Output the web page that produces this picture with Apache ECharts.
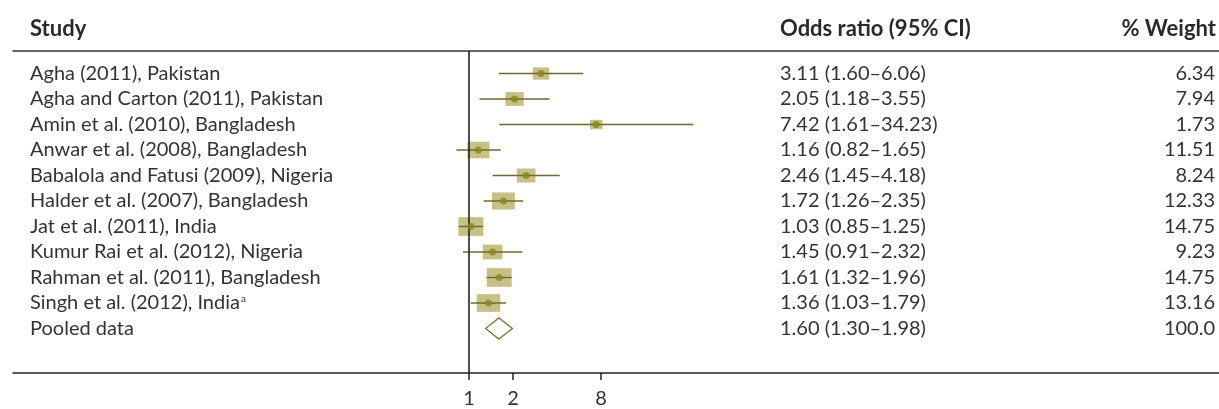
<!DOCTYPE html>
<html>
<head>
<meta charset="utf-8">
<style>html,body{margin:0;padding:0;background:#fff;}#c{width:1219px;height:409px;}</style>
<script src="https://cdn.jsdelivr.net/npm/echarts@6/dist/echarts.min.js"></script>
</head>
<body>
<div id="c"></div>
<script>
// ---- data ----
var studies = ['Agha (2011), Pakistan','Agha and Carton (2011), Pakistan','Amin et al. (2010), Bangladesh','Anwar et al. (2008), Bangladesh','Babalola and Fatusi (2009), Nigeria','Halder et al. (2007), Bangladesh','Jat et al. (2011), India','Kumur Rai et al. (2012), Nigeria','Rahman et al. (2011), Bangladesh','Singh et al. (2012), India','Pooled data'];
var footnotes = ['','','','','','','','','','a',''];
var oddsRatio = [3.11,2.05,7.42,1.16,2.46,1.72,1.03,1.45,1.61,1.36,1.60];
var ciLow = [1.60,1.18,1.61,0.82,1.45,1.26,0.85,0.91,1.32,1.03,1.30];
var ciHigh = [6.06,3.55,34.23,1.65,4.18,2.35,1.25,2.32,1.96,1.79,1.98];
var weights = ['6.34','7.94','1.73','11.51','8.24','12.33','14.75','9.23','14.75','13.16','100.0'];
var xTicks = [1,2,8];
var refValue = 1;
var pooledIndex = 10;

// ---- build ----
var TXT = '#333333', FONT = 'Lato';
var xMin = Math.pow(2, -456/44), xMax = Math.pow(2, 750/44);
var orLabels = oddsRatio.map(function(v,i){return v.toFixed(2)+' ('+ciLow[i].toFixed(2)+'\u2013'+ciHigh[i].toFixed(2)+')';});
var rows = oddsRatio.map(function(v,i){return [v,i,ciLow[i],ciHigh[i],parseFloat(weights[i])];});
var studyRows = rows.filter(function(r,i){return i!==pooledIndex;});
var pooledRows = rows.filter(function(r,i){return i===pooledIndex;});

function catAxis(data, extra){
  var a = {type:'category', gridIndex:0, inverse:true, data:data, boundaryGap:true,
    axisLine:{show:false}, axisTick:{show:false}, splitLine:{show:false},
    axisLabel:{inside:true, interval:0, hideOverlap:false, color:TXT, fontFamily:FONT, fontSize:20}};
  for (var k in extra){ if(k==='axisLabel'){for(var j in extra[k]) a.axisLabel[j]=extra[k][j];} else a[k]=extra[k]; }
  return a;
}
var headStyle = {fontFamily:FONT, fontSize:22, fontWeight:'bold', color:'#2a2a2a'};

var option = {
  animation:false,
  title:[
    {text:'Study', left:30, top:18, padding:0, textStyle:headStyle},
    {text:'Odds ratio (95% CI)', left:780, top:18, padding:0, textStyle:headStyle},
    {text:'% Weight', right:3, top:18, padding:0, textStyle:headStyle}
  ],
  grid:[
    {left:13, right:0, top:60.75, height:280.5},
    {left:13, right:0, top:51, height:322}
  ],
  xAxis:[
    {type:'log', logBase:2, gridIndex:0, min:xMin, max:xMax, show:false},
    {type:'log', logBase:2, gridIndex:1, min:xMin, max:xMax, position:'bottom',
      axisLine:{show:true, lineStyle:{color:'#222', width:1.5}},
      axisTick:{show:true, customValues:xTicks, length:7, lineStyle:{color:'#222', width:1.5}},
      axisLabel:{show:true, customValues:xTicks, color:TXT, fontFamily:FONT, fontSize:20, margin:16},
      splitLine:{show:false}},
    {type:'log', logBase:2, gridIndex:1, min:xMin, max:xMax, position:'top',
      axisLine:{show:true, lineStyle:{color:'#333', width:1.5}},
      axisTick:{show:false}, axisLabel:{show:false}, splitLine:{show:false}}
  ],
  yAxis:[
    catAxis(studies, {position:'left', axisLabel:{margin:17, align:'left',
      formatter:function(v,i){return v + (footnotes[i] ? '{sup|'+footnotes[i]+'}' : '');},
      rich:{sup:{fontSize:10, color:TXT, fontFamily:FONT, padding:[0,0,9,1]}}}}),
    catAxis(orLabels, {position:'left', offset:-767, axisLabel:{margin:0, align:'left'}}),
    catAxis(weights, {position:'right', axisLabel:{margin:4, align:'right'}}),
    {type:'value', gridIndex:1, min:0, max:1, show:false}
  ],
  series:[
    {type:'line', xAxisIndex:1, yAxisIndex:3, data:[[refValue,0],[refValue,1]], symbol:'none',
      lineStyle:{color:'#222', width:1.6}, silent:true},
    {type:'custom', xAxisIndex:0, yAxisIndex:0, data:studyRows, encode:{x:0,y:1},
      renderItem:function(params, api){
        var a = api.coord([api.value(2), api.value(1)]);
        var b = api.coord([api.value(3), api.value(1)]);
        return {type:'line', shape:{x1:a[0], y1:a[1], x2:b[0], y2:b[1]}, style:{stroke:'#6f6a2c', lineWidth:1.4}};
      }},
    {type:'scatter', xAxisIndex:0, yAxisIndex:0, data:studyRows, encode:{x:0,y:1}, symbol:'rect',
      symbolSize:function(v){var w=Math.max(12.5, 6.5*Math.sqrt(v[4])); return [w, w*0.75];},
      itemStyle:{color:'#c6bf86', opacity:1}, z:1},
    {type:'scatter', xAxisIndex:0, yAxisIndex:0, data:studyRows, encode:{x:0,y:1}, symbol:'circle', symbolSize:7,
      itemStyle:{color:'#8a861f'}, z:3},
    {type:'custom', xAxisIndex:0, yAxisIndex:0, data:pooledRows, encode:{x:0,y:1},
      renderItem:function(params, api){
        var c = api.coord([api.value(0), api.value(1)]);
        var l = api.coord([api.value(2), api.value(1)]);
        var r = api.coord([api.value(3), api.value(1)]);
        var h = 10.5;
        return {type:'polygon', shape:{points:[[l[0],c[1]],[c[0],c[1]-h],[r[0],c[1]],[c[0],c[1]+h]]},
          style:{fill:'#fff', stroke:'#7d7a3a', lineWidth:1.4}};
      }}
  ]
};
echarts.init(document.getElementById('c')).setOption(option);
</script>
</body>
</html>
